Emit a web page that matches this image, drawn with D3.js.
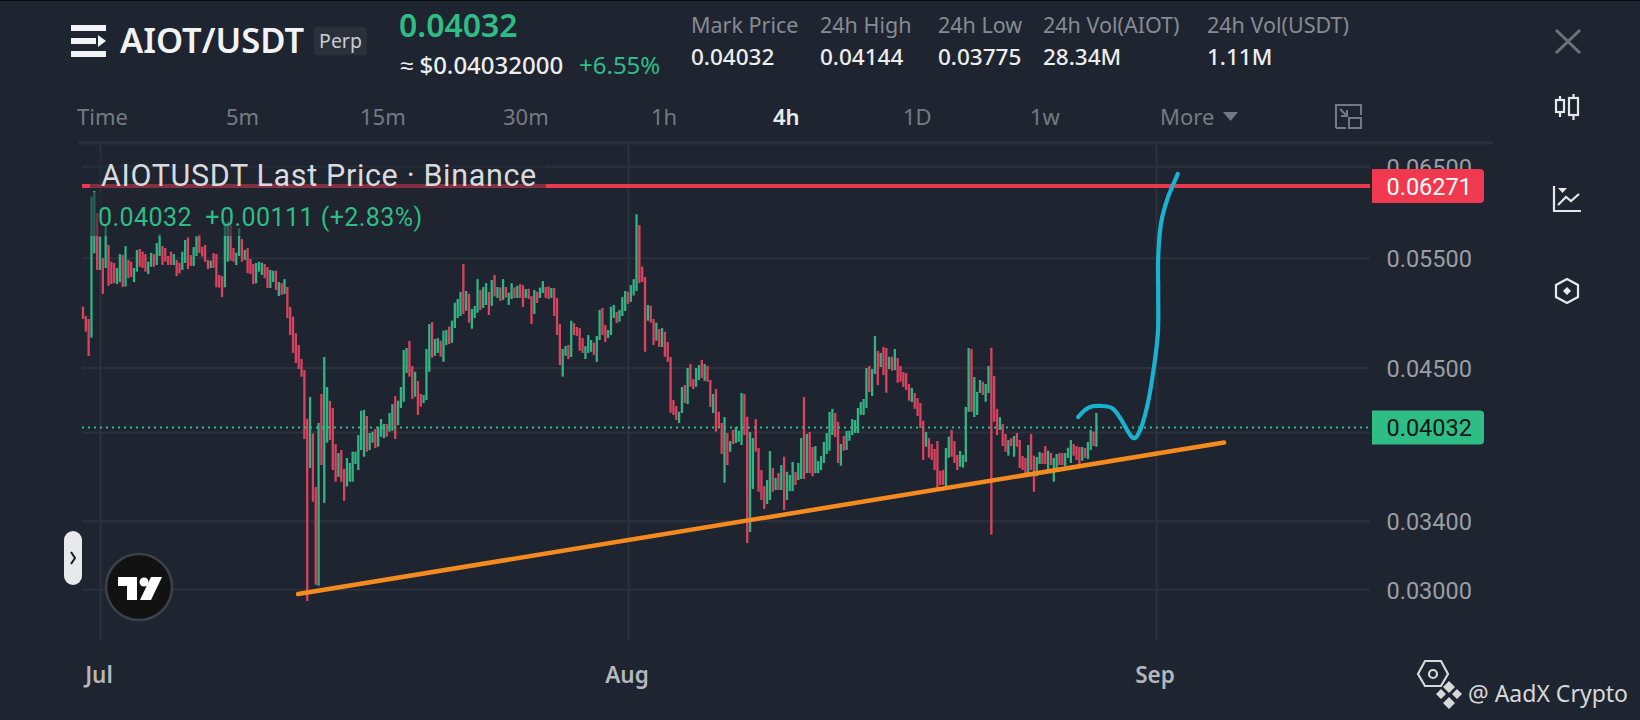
<!DOCTYPE html>
<html>
<head>
<meta charset="utf-8">
<title>AIOT/USDT Perp</title>
<script src="https://cdn.jsdelivr.net/npm/d3@7/dist/d3.min.js"></script>
<style>
  html, body { margin: 0; padding: 0; background: #1f2530; overflow: hidden; }
  svg { display: block; }
</style>
</head>
<body>
<svg id="chart" width="1640" height="720"></svg>
<script>
// 4h candles, first one opens 30 Jun 00:00. Prices are in ticks of 0.00001
const tickSize = 0.00001;
const firstCandle = Date.UTC(2025, 5, 30);
const candleMs = 4 * 3600 * 1000;

const highs = [
  5029,4944,4917,6149,6213,5968,5715,5497,5838,5629,
  5460,5447,5397,5537,5527,5618,5477,5460,5397,5578,
  5588,5561,5537,5460,5550,5537,5649,5740,5618,5598,
  5517,5561,5537,5477,5450,5561,5681,5707,5527,5608,
  5720,5740,5610,5629,5477,5470,5547,5537,5329,5318,
  5838,5874,5838,5598,5550,5806,5690,5578,5598,5487,
  5437,5447,5460,5450,5437,5407,5378,5371,5371,5261,
  5250,5289,5213,5027,4938,4790,4689,4570,4479,4096,
  4263,3990,3617,4066,4287,4587,4342,4234,4179,3912,
  3848,3870,3738,3814,3779,3858,3858,3977,4158,4164,
  4118,3992,4002,4021,4038,4095,4058,4058,4141,4209,
  4270,4235,4342,4646,4663,4723,4512,4465,4390,4287,
  4279,4655,4872,4890,4740,4749,4726,4813,4819,4849,
  4902,5066,5100,5167,5437,5175,5148,5008,5036,5289,
  5184,5213,5250,5167,5280,5329,5213,5210,5289,5213,
  5160,5250,5210,5225,5241,5231,5193,5197,5127,5184,
  5167,5207,5270,5213,5219,5203,5203,5110,4872,4655,
  4680,4689,4902,4880,4846,4836,4749,4680,4775,4732,
  4708,4766,4999,5017,4863,4819,5029,5045,4981,4999,
  5118,5175,5167,5231,5289,5954,5838,5410,5310,5045,
  5036,4917,4884,4828,4836,4804,4715,4587,4240,4194,
  4150,4342,4358,4496,4529,4406,4496,4520,4562,4529,
  4512,4398,4287,4326,4150,4066,4110,3992,3934,4014,
  4036,4009,4295,4287,4113,3999,3955,4095,3884,3731,
  3623,3663,3863,3745,3677,3710,3765,3823,3719,3697,
  3786,3717,3779,3955,4263,3985,3999,3891,3898,3793,
  3828,3927,3992,4149,4172,4141,4075,3912,3970,4007,
  4009,4095,4088,4179,4224,4248,4496,4512,4487,4766,
  4638,4622,4672,4663,4589,4589,4655,4579,4512,4463,
  4455,4366,4334,4295,4255,4217,4083,3999,3955,3912,
  3877,3934,3726,3731,3884,3965,4014,3934,3835,3863,
  3835,4187,4663,4655,4422,4304,4398,4384,4366,4512,
  4665,4430,4172,4110,4058,3985,3941,3955,3970,3992,
  3941,3828,3814,3905,3985,3830,3821,3856,3849,3898,
  3865,3849,3814,3842,3849,3849,3849,3886,3941,3912,
  3898,3891,3891,3884,3927,4014,4002,4141
];

const lows = [
  4917,4804,4596,4752,5544,5378,5378,5148,5397,5225,
  5241,5250,5241,5261,5213,5219,5299,5310,5261,5361,
  5409,5397,5361,5338,5410,5410,5427,5517,5427,5460,
  5427,5427,5427,5318,5345,5378,5447,5387,5417,5417,
  5517,5547,5510,5460,5387,5397,5397,5210,5207,5118,
  5210,5460,5470,5460,5427,5517,5460,5477,5348,5338,
  5241,5250,5361,5329,5299,5203,5203,5261,5184,5127,
  5138,5147,4926,4775,4622,4537,4487,4425,3948,2936,
  3745,3521,3025,3020,3765,3513,3922,3941,3731,3652,
  3684,3652,3527,3620,3652,3652,3772,3731,3870,3823,
  3858,3870,3922,3884,3893,3965,3955,3965,4002,4009,
  3948,4050,4179,4227,4455,4425,4248,4266,4126,4189,
  4217,4240,4465,4581,4597,4621,4589,4547,4689,4697,
  4708,4836,4926,4944,4963,4992,4884,4830,4926,4974,
  4999,5017,5045,4953,5036,5124,5110,5082,5091,5113,
  5045,5100,5110,5110,5110,5027,5110,5100,4872,4963,
  5063,5110,5156,5110,5100,5110,4944,4775,4520,4425,
  4597,4570,4587,4775,4768,4640,4621,4570,4621,4631,
  4605,4547,4732,4775,4715,4749,4775,4926,4880,4893,
  4944,4990,5055,5073,5133,5175,5250,5261,4631,4902,
  4884,4689,4726,4672,4672,4589,4547,4143,4126,4088,
  4066,4141,4217,4209,4344,4326,4344,4398,4414,4392,
  4384,4187,4141,4002,4028,3842,3645,3765,3858,3912,
  3920,3929,3905,3977,3265,3331,3604,3858,3586,3532,
  3474,3506,3532,3586,3597,3597,3597,3468,3532,3590,
  3590,3630,3663,3670,3670,3710,3710,3688,3710,3710,
  3731,3779,3842,3865,3977,3963,3779,3760,3865,3870,
  3936,3977,3992,3992,4126,4126,4179,4304,4271,4447,
  4358,4504,4438,4297,4487,4473,4479,4376,4384,4342,
  4318,4235,4224,4172,4118,4028,3800,3893,3816,3800,
  3731,3610,3630,3630,3620,3816,3823,3779,3731,3754,
  3747,3786,4150,4150,4110,4126,4295,4279,4227,4295,
  3316,4075,3977,4014,3898,3858,3830,3898,3823,3893,
  3745,3731,3710,3697,3731,3586,3688,3772,3772,3772,
  3731,3765,3652,3719,3765,3765,3755,3814,3779,3830,
  3800,3760,3795,3814,3807,3870,3898,3893
];

// u = closed up, d = closed down
const directions = (
  "ddduududud" + "dduududduu" + "ddduuduudd" + "ddudduuddu" + "uddddudddd" +
  "uudduududd" + "duuudduudu" + "dudddddddd" + "udduduuddd" + "udduuuuuuu" +
  "duuduuuduu" + "duuuuddudd" + "uuuduuduud" + "uuuududuuu" + "duudududud" +
  "uududduddu" + "duuddudddu" + "ududddduuu" + "duudduuudu" + "uuduuudddu" +
  "ddududdddd" + "uududduudu" + "ddudddudud" + "uuudduuddd" + "duudududuu" +
  "uduududduu" + "uuuuuddudu" + "uuuuuuuduu" + "duddududdd" + "dduddddudd" +
  "dddduudddu" + "uuuduuuduu" + "ddduddudud" + "dddudduudd" + "uduudduuud" +
  "dduduudu"
).split("");

const priceTicks = [0.03, 0.034, 0.04, 0.045, 0.055, 0.065];
const priceLabels = ["0.03000", "0.03400", "", "0.04500", "0.05500", "0.06500"];
const monthTicks = [Date.UTC(2025, 6, 1), Date.UTC(2025, 7, 1), Date.UTC(2025, 8, 1)];

const lastPrice = 0.04032;
const resistance = 0.06271;

// hand drawn lines on the chart, days counted from 1 Jul
const trendDays = [11.63, 66];
const trendPrices = [0.02974, 0.03923];
const arrowDays = [57.43, 57.84, 58.13, 58.6, 58.72, 59.41, 59.9, 60.58, 60.77, 61.07, 61.46, 61.83, 62.11, 62.13, 62.13, 62.3, 62.71, 63.0, 63.28];
const arrowPrices = [0.0411, 0.04164, 0.04187, 0.04195, 0.04195, 0.04179, 0.04102, 0.03963, 0.03955, 0.04014, 0.04179, 0.04455, 0.0479, 0.05156, 0.0551, 0.05862, 0.06146, 0.06282, 0.0641];

const tabs = ["Time", "5m", "15m", "30m", "1h", "4h", "1D", "1w", "More"];
const statLabels = ["Mark Price", "24h High", "24h Low", "24h Vol(AIOT)", "24h Vol(USDT)"];
const statValues = ["0.04032", "0.04144", "0.03775", "28.34M", "1.11M"];

const bg = "#1f2530";
const green = "#2ebd85";
const candleGreen = "#33b283";
const candleRed = "#d9435f";
const gridColor = "#2c323c";
const uiFont = "'Noto Sans', sans-serif";
const chartFont = "Roboto, sans-serif";

const svg = d3.select("#chart");

svg.append("rect").attr("width", 1640).attr("height", 720).attr("fill", bg);
svg.append("rect").attr("width", 1640).attr("height", 1).attr("fill", "#0b0d10");

const x = d3.scaleUtc()
  .domain([monthTicks[0], monthTicks[2]])
  .range([100, 1156]);

const y = d3.scaleLog()
  .domain([0.03, 0.055])
  .range([589.3, 257.7]);

const candles = highs.map((h, i) => ({
  time: firstCandle + i * candleMs,
  high: h * tickSize,
  low: lows[i] * tickSize,
  up: directions[i] === "u"
}));

const dayToTime = d => monthTicks[0] + d * 24 * 3600 * 1000;

// --- grid and axes
const yAxis = d3.axisRight(y)
  .tickValues(priceTicks)
  .tickFormat((d, i) => priceLabels[i])
  .tickSize(-1288)
  .tickPadding(16.5);

const yAxisG = svg.append("g")
  .attr("transform", "translate(1370,0)")
  .call(yAxis);
yAxisG.select(".domain").remove();
yAxisG.selectAll("line").attr("stroke", gridColor).attr("stroke-width", 2);
yAxisG.selectAll("text")
  .attr("fill", "#9a9da3")
  .attr("dy", "0.37em")
  .style("font", "23.5px " + chartFont);

const xAxis = d3.axisBottom(x)
  .tickValues(monthTicks)
  .tickFormat(d3.utcFormat("%b"))
  .tickSize(-495)
  .tickPadding(27);

const xAxisG = svg.append("g")
  .attr("transform", "translate(0,640)")
  .call(xAxis);
xAxisG.select(".domain").remove();
xAxisG.selectAll("line").attr("stroke", gridColor).attr("stroke-width", 2);
xAxisG.selectAll("text")
  .attr("fill", "#b4b7bc")
  .attr("dx", -1.5)
  .style("font", "600 22.5px " + uiFont);

// --- candles
svg.append("g")
  .selectAll("rect")
  .data(candles)
  .join("rect")
    .attr("x", d => x(d.time) - 1.15)
    .attr("width", 2.3)
    .attr("y", d => y(d.high))
    .attr("height", d => y(d.low) - y(d.high))
    .attr("fill", d => d.up ? candleGreen : candleRed);

// last price line
svg.append("line")
  .attr("x1", 82).attr("x2", 1370)
  .attr("y1", y(lastPrice)).attr("y2", y(lastPrice))
  .attr("stroke", green)
  .attr("stroke-width", 2)
  .attr("stroke-dasharray", "2 4");

// drawn resistance line
svg.append("line")
  .attr("x1", 82).attr("x2", 1370)
  .attr("y1", y(resistance)).attr("y2", y(resistance))
  .attr("stroke", "#e8394f")
  .attr("stroke-width", 4);

// legend backdrop dims what is under it
svg.append("rect")
  .attr("x", 90).attr("y", 155).attr("width", 456).attr("height", 34)
  .attr("fill", bg).attr("opacity", 0.5);
svg.append("rect")
  .attr("x", 90).attr("y", 192).attr("width", 352).attr("height", 44)
  .attr("fill", bg).attr("opacity", 0.55);

svg.append("text")
  .attr("x", 101).attr("y", 186)
  .attr("fill", "#d8dadd")
  .style("font", "30.5px " + chartFont)
  .style("letter-spacing", "0.65px")
  .text("AIOTUSDT Last Price · Binance");

svg.append("text")
  .attr("x", 98).attr("y", 226)
  .attr("fill", green)
  .attr("xml:space", "preserve")
  .style("font", "25px " + chartFont)
  .style("letter-spacing", "0.45px")
  .text("0.04032  +0.00111 (+2.83%)");

// orange support line and blue projection
const drawnLine = d3.line()
  .x(d => x(dayToTime(d[0])))
  .y(d => y(d[1]));

svg.append("path")
  .attr("d", drawnLine(d3.zip(trendDays, trendPrices)))
  .attr("fill", "none")
  .attr("stroke", "#f58a1f")
  .attr("stroke-width", 4.5)
  .attr("stroke-linecap", "round");

svg.append("path")
  .attr("d", drawnLine.curve(d3.curveCatmullRom)(d3.zip(arrowDays, arrowPrices)))
  .attr("fill", "none")
  .attr("stroke", "#19b3d1")
  .attr("stroke-width", 4.2)
  .attr("stroke-linecap", "round");

// --- price tags
function priceTag(price, fill, textFill) {
  const cy = y(price);
  svg.append("path")
    .attr("d", `M1372,${cy - 17}H1480a4,4 0 0 1 4,4V${cy + 13}a4,4 0 0 1 -4,4H1372Z`)
    .attr("fill", fill);
  svg.append("text")
    .attr("x", 1386.5).attr("y", cy)
    .attr("dy", "0.37em")
    .attr("fill", textFill)
    .style("font", "23.5px " + chartFont)
    .text(d3.format(".5f")(price));
}
priceTag(resistance, "#f0394f", "#ffffff");
priceTag(lastPrice, green, "#10151a");

// --- header
const menu = svg.append("g").attr("fill", "#f2f3f4");
menu.append("rect").attr("x", 71).attr("y", 25).attr("width", 35).attr("height", 6);
menu.append("rect").attr("x", 71).attr("y", 38).attr("width", 25).attr("height", 6);
menu.append("path").attr("d", "M98,35L106,41L98,47Z");
menu.append("rect").attr("x", 71).attr("y", 51).attr("width", 35).attr("height", 6);

svg.append("text")
  .attr("x", 120).attr("y", 53)
  .attr("fill", "#f2f3f4")
  .style("font", "600 34.5px " + uiFont)
  .text("AIOT/USDT");

svg.append("rect")
  .attr("x", 314).attr("y", 27).attr("width", 53).attr("height", 28).attr("rx", 3)
  .attr("fill", "#2b313b");
svg.append("text")
  .attr("x", 340.5).attr("y", 48)
  .attr("text-anchor", "middle")
  .attr("fill", "#c9ccd0")
  .style("font", "19.5px " + uiFont)
  .text("Perp");

svg.append("text")
  .attr("x", 399).attr("y", 37)
  .attr("fill", green)
  .style("font", "600 32px " + uiFont)
  .text("0.04032");
svg.append("text")
  .attr("x", 400).attr("y", 74)
  .attr("fill", "#eceded")
  .style("font", "500 24px " + uiFont)
  .text("≈ $0.04032000");
svg.append("text")
  .attr("x", 579).attr("y", 74)
  .attr("fill", green)
  .style("font", "24px " + uiFont)
  .text("+6.55%");

const statX = [691, 820, 938, 1043, 1207];
svg.append("g").selectAll("text")
  .data(statLabels)
  .join("text")
    .attr("x", (d, i) => statX[i]).attr("y", 33)
    .attr("fill", "#868b93")
    .style("font", "21.5px " + uiFont)
    .text(d => d);
svg.append("g").selectAll("text")
  .data(statValues)
  .join("text")
    .attr("x", (d, i) => statX[i]).attr("y", 65)
    .attr("fill", "#eceded")
    .style("font", "500 22.5px " + uiFont)
    .text(d => d);

// --- interval tabs
const tabX = [77, 226, 360, 503, 651, 773, 903, 1030, 1160];
svg.append("g").selectAll("text")
  .data(tabs)
  .join("text")
    .attr("x", (d, i) => tabX[i]).attr("y", 125)
    .attr("fill", d => d === "4h" ? "#e8e9ea" : "#757a82")
    .style("font", d => (d === "4h" ? "600 " : "") + "22px " + uiFont)
    .text(d => d);
svg.append("path").attr("d", "M1223,112H1238L1230.5,121Z").attr("fill", "#757a82");

// expand icon
const expand = svg.append("g").attr("fill", "none").attr("stroke", "#757a82").attr("stroke-width", 2);
expand.append("path").attr("d", "M1336,128V105H1361V115M1336,128H1346");
expand.append("rect").attr("x", 1349).attr("y", 118).attr("width", 12).attr("height", 10);
expand.append("path").attr("d", "M1340,109L1347,116M1347,110V116H1341");

svg.append("rect")
  .attr("x", 78).attr("y", 141).attr("width", 1415).attr("height", 3.5)
  .attr("fill", "#2a303a");

// --- right side icons
const icons = svg.append("g").attr("fill", "none").attr("stroke", "#e6e7e9").attr("stroke-width", 2.2);
svg.append("path")
  .attr("d", "M1556,30L1580,53M1580,30L1556,53")
  .attr("stroke", "#6d7279").attr("stroke-width", 3).attr("fill", "none");
icons.append("rect").attr("x", 1556).attr("y", 100).attr("width", 8).attr("height", 12);
icons.append("path").attr("d", "M1560,96V100M1560,112V117");
icons.append("rect").attr("x", 1569).attr("y", 98).attr("width", 9).attr("height", 17);
icons.append("path").attr("d", "M1573.5,94V98M1573.5,115V120");
icons.append("path").attr("d", "M1554,186V211H1581M1558,205L1566,197L1571,201L1579,194");
svg.append("path").attr("d", "M1558,188H1567L1562.5,193Z").attr("fill", "#e6e7e9");
icons.append("path").attr("d", "M1567,279L1578,285V297L1567,303L1556,297V285Z");
svg.append("path").attr("d", "M1567,287L1571,291L1567,295L1563,291Z").attr("fill", "#e6e7e9");

// --- scroll handle and TradingView badge
svg.append("rect")
  .attr("x", 64).attr("y", 531).attr("width", 18).attr("height", 54).attr("rx", 9)
  .attr("fill", "#e8e9eb");
svg.append("path")
  .attr("d", "M71,552L75,558L71,564")
  .attr("fill", "none").attr("stroke", "#15181d").attr("stroke-width", 2);

svg.append("circle")
  .attr("cx", 139).attr("cy", 587).attr("r", 33)
  .attr("fill", "#121212").attr("stroke", "#3d424a").attr("stroke-width", 2.5);
svg.append("path")
  .attr("d", "M118,577H137V600H127V586H118ZM151,577H162L151,600H140Z")
  .attr("fill", "#ffffff");
svg.append("circle").attr("cx", 144).attr("cy", 582).attr("r", 4.5).attr("fill", "#ffffff");

// --- watermark
const mark = svg.append("g").attr("fill", "none").attr("stroke", "#d6d8da").attr("stroke-width", 2.2);
mark.append("path").attr("d", "M1425,661H1441L1448,674L1441,686H1425L1418,674Z");
mark.append("circle").attr("cx", 1433).attr("cy", 674).attr("r", 4);
svg.append("path")
  .attr("d", "M1449,681L1455,687L1449,693L1443,687ZM1441,689L1446,694L1441,699L1436,694ZM1457,689L1462,694L1457,699L1452,694ZM1449,697L1455,703L1449,709L1443,703Z")
  .attr("fill", "#d6d8da");
svg.append("text")
  .attr("x", 1468).attr("y", 702)
  .attr("fill", "#d6d8da")
  .style("font", "23px " + uiFont)
  .text("@ AadX Crypto");
</script>
</body>
</html>
